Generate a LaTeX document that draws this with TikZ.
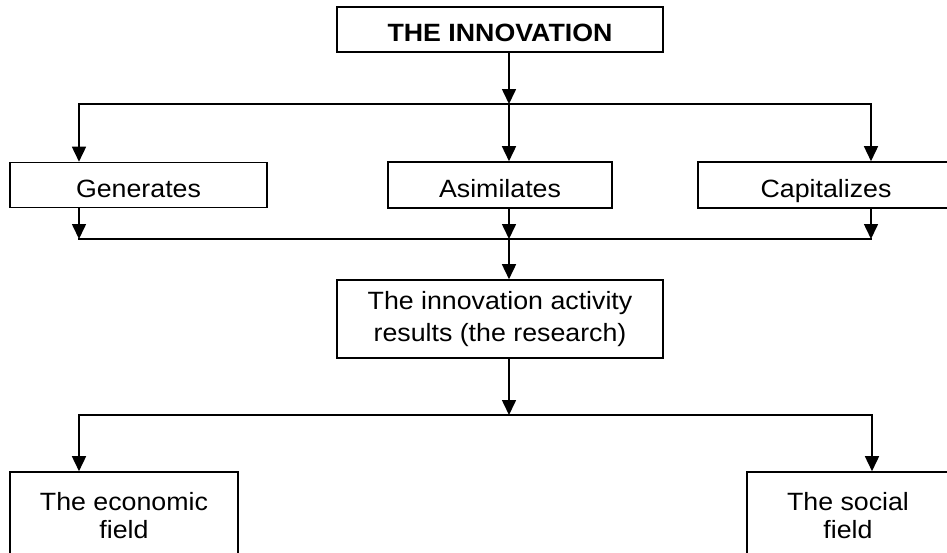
\documentclass[tikz,border=0pt]{standalone}
\usepackage{fontspec}
\setmainfont{Liberation Sans}[FakeStretch=1.07]
\usetikzlibrary{arrows.meta}

\tikzset{
  box/.style={draw, rectangle, inner sep=0pt, align=center,
    font=\fontsize{25}{30}\selectfont},
  onebox/.style={box, text height=26pt, text depth=2pt},
}

\begin{document}
\begin{tikzpicture}[>={Triangle[length=15pt,width=14pt]}, line width=1.6pt, x=1pt, y=-1pt]

    % picture frame
    \useasboundingbox (0,0) rectangle (947,552);
    \clip (0,0) rectangle (947,552);

    % 1. boxes
    \node[onebox, minimum width=326pt, minimum height=45pt,
      font=\fontsize{25}{30}\selectfont\bfseries] (inov) at (500,29.5) {THE INNOVATION};
    \node[onebox, minimum width=257pt, minimum height=45pt] (gen) at (138.5,185) {Generates};
    \node[onebox, minimum width=224pt, minimum height=46pt] (asi) at (500,185) {Asimilates};
    \node[onebox, minimum width=256pt, minimum height=46pt] (cap) at (826,185) {Capitalizes};
    \node[box, minimum width=326pt, minimum height=78pt,
      font=\fontsize{25}{32}\selectfont] (res) at (500,319)
      {The innovation activity\\results (the research)};
    \node[box, minimum width=228pt, minimum height=88pt,
      font=\fontsize{25}{28}\selectfont] (eco) at (124,516) {The economic\\field};
    \node[box, minimum width=202pt, minimum height=88pt,
      font=\fontsize{25}{28}\selectfont] (soc) at (848,516) {The social\\field};

    % 2. bus lines
    \coordinate (b1l) at (79,104);  \coordinate (b1c) at (509,104); \coordinate (b1r) at (871,104);
    \coordinate (b2l) at (79,239);  \coordinate (b2c) at (509,239); \coordinate (b2r) at (871,239);
    \coordinate (b3l) at (79,415);  \coordinate (b3c) at (509,415); \coordinate (b3r) at (872,415);

    \draw[line cap=rect] (b1l) -- (b1r);
    \draw[line cap=rect] (b2l) -- (b2r);
    \draw[line cap=rect] (b3l) -- (b3r);

    % 3. arrows
    \draw[->] (inov.south -| b1c) -- (b1c);
    \foreach \p/\n in {b1l/gen, b1c/asi, b1r/cap} {
        \draw[->] (\p) -- (\n.north -| \p);
    }
    \foreach \n/\p in {gen/b2l, asi/b2c, cap/b2r} {
        \draw[->] (\n.south -| \p) -- (\p);
    }
    \draw[->] (b2c) -- (res.north -| b2c);
    \draw[->] (res.south -| b3c) -- (b3c);
    \draw[->] (b3l) -- (eco.north -| b3l);
    \draw[->] (b3r) -- (soc.north -| b3r);

\end{tikzpicture}
\end{document}
